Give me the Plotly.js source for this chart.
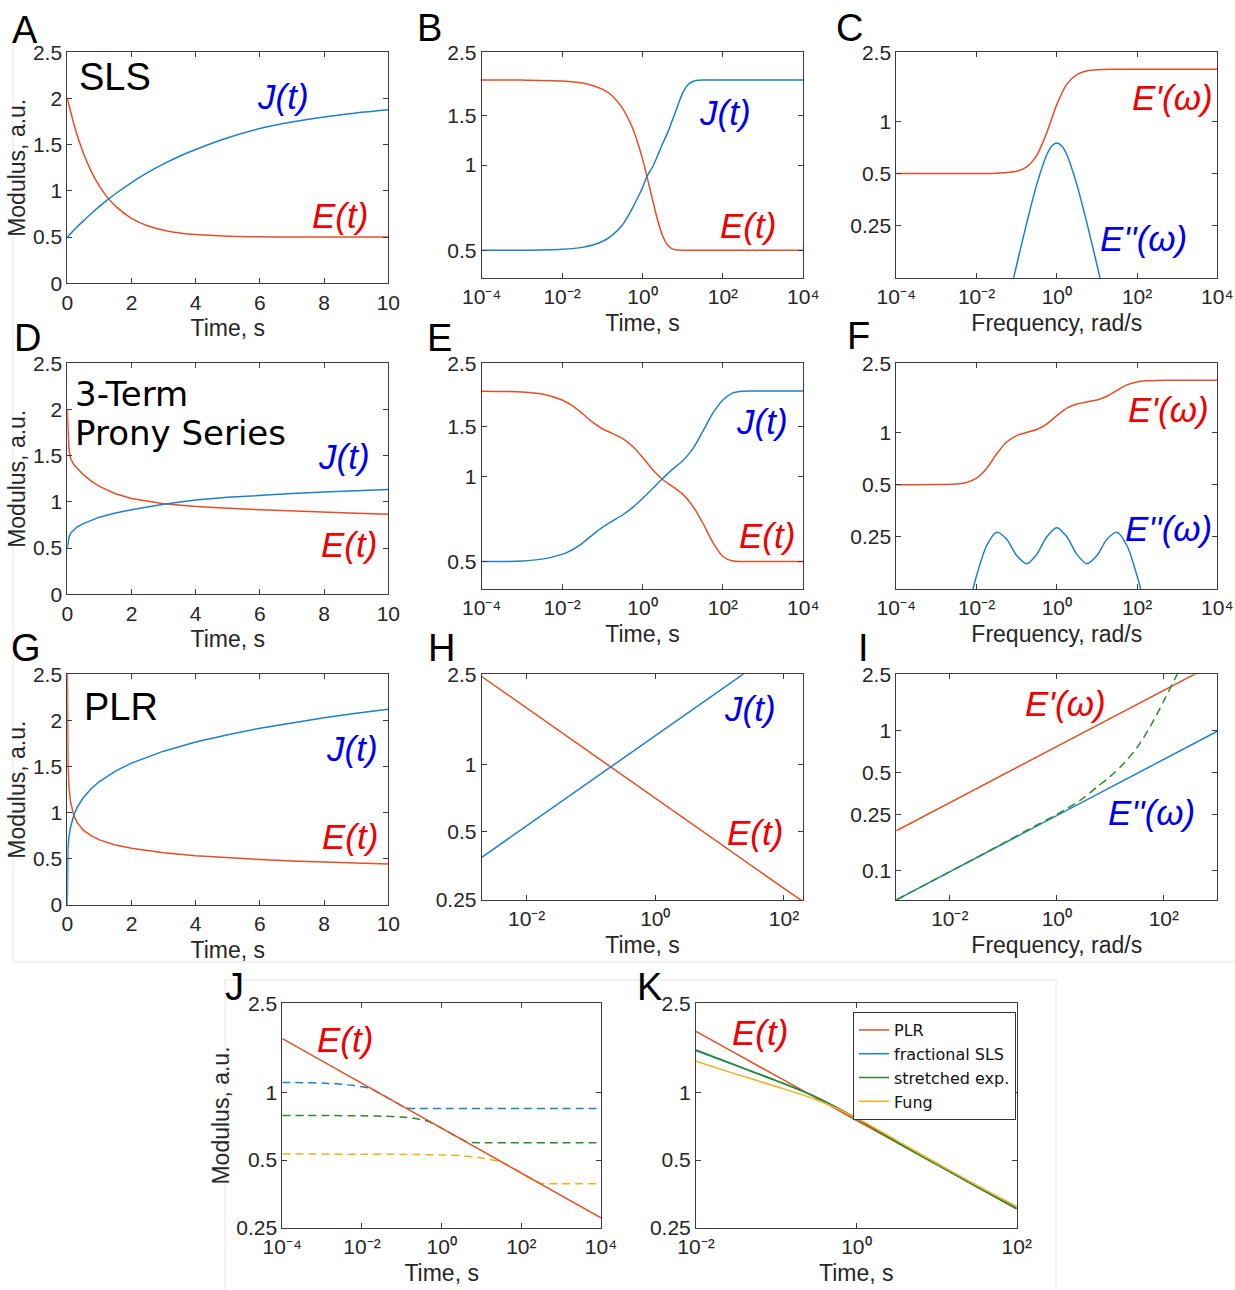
<!DOCTYPE html>
<html><head><meta charset="utf-8">
<script src="https://cdn.plot.ly/plotly-3.0.1.min.js"></script>
<style>html,body{margin:0;padding:0;background:#fff}#chart{width:1235px;height:1290px}</style>
</head><body><div id="chart"></div>
<script>
// ---------------- DATA ----------------
// A: SLS, linear time
const tA = [0, 0.25, 0.5, 0.75, 1, 1.25, 1.5, 2, 2.5, 3, 3.5, 4, 5, 6, 7, 8, 9, 10];
const eA = [2.0, 1.668, 1.41, 1.208, 1.052, 0.93, 0.835, 0.703, 0.623, 0.575, 0.545, 0.527, 0.51, 0.504, 0.501, 0.5, 0.5, 0.5];
const jA = [0.5, 0.591, 0.676, 0.756, 0.832, 0.903, 0.969, 1.09, 1.197, 1.292, 1.375, 1.448, 1.575, 1.675, 1.745, 1.80, 1.843, 1.877];
// B: SLS, log time
const tB = [1e-4, 1e-3, 1e-2, 0.0316, 0.1, 0.178, 0.316, 0.562, 0.75, 1, 1.33, 1.78, 2.37, 3.16, 4.2, 5.62, 7.5, 10, 13.3, 17.8, 23.7, 31.6, 100, 1e3, 1e4];
const eB = [2.0, 1.998, 1.985, 1.953, 1.857, 1.756, 1.59, 1.355, 1.208, 1.052, 0.896, 0.754, 0.64, 0.563, 0.522, 0.505, 0.501, 0.5, 0.5, 0.5, 0.5, 0.5, 0.5, 0.5, 0.5];
const jB = [0.5, 0.5, 0.504, 0.512, 0.537, 0.566, 0.614, 0.705, 0.764, 0.832, 0.92, 0.985, 1.08, 1.19, 1.30, 1.45, 1.62, 1.80, 1.92, 1.975, 1.994, 1.999, 2.0, 2.0, 2.0];
// C: SLS, frequency
const wC = [1e-4, 1e-3, 1e-2, 0.0316, 0.1, 0.178, 0.316, 0.562, 1, 1.78, 3.16, 5.62, 10, 31.6, 100, 1e3, 1e4];
const epC = [0.5, 0.5, 0.5002, 0.5015, 0.515, 0.546, 0.636, 0.86, 1.25, 1.64, 1.864, 1.954, 1.985, 1.998, 2.0, 2.0, 2.0];
const wC2 = [0.0562, 0.1, 0.178, 0.316, 0.562, 0.75, 1, 1.333, 1.78, 3.16, 5.62, 10, 17.8];
const eppC = [0.084, 0.1485, 0.259, 0.431, 0.641, 0.72, 0.75, 0.72, 0.641, 0.431, 0.259, 0.1485, 0.084];
// D: 3-term Prony, linear time
const tD = [0, 0.02, 0.05, 0.1, 0.2, 0.3, 0.5, 0.75, 1, 1.5, 2, 3, 4, 5, 6, 7, 8, 9, 10];
const eD = [2.0, 1.755, 1.578, 1.472, 1.407, 1.366, 1.295, 1.224, 1.168, 1.088, 1.037, 0.98, 0.95, 0.93, 0.915, 0.901, 0.888, 0.876, 0.865];
const jD = [0.5, 0.56, 0.612, 0.66, 0.70, 0.728, 0.765, 0.80, 0.835, 0.88, 0.915, 0.975, 1.02, 1.05, 1.072, 1.09, 1.107, 1.122, 1.135];
// E: 3-term Prony, log time
const tE = [1e-4, 1e-3, 0.00316, 0.01, 0.0178, 0.0316, 0.0562, 0.1, 0.178, 0.316, 0.562, 1, 1.78, 3.16, 5.62, 10, 17.8, 31.6, 56.2, 100, 178, 316, 1e3, 1e4];
const eE = [1.998, 1.984, 1.951, 1.86, 1.776, 1.668, 1.556, 1.472, 1.417, 1.36, 1.276, 1.168, 1.057, 0.974, 0.92, 0.865, 0.785, 0.684, 0.584, 0.521, 0.502, 0.5, 0.5, 0.5];
const jE = [0.5, 0.502, 0.51, 0.53, 0.55, 0.58, 0.62, 0.66, 0.695, 0.73, 0.775, 0.835, 0.905, 0.982, 1.06, 1.135, 1.25, 1.44, 1.67, 1.86, 1.97, 1.998, 2.0, 2.0];
// F: 3-term Prony, frequency
const wF = [1e-4, 1e-3, 0.00316, 0.00562, 0.01, 0.0178, 0.0316, 0.0562, 0.1, 0.178, 0.316, 0.562, 1, 1.78, 3.16, 5.62, 10, 17.8, 31.6, 56.2, 100, 178, 316, 1e3, 1e4];
const epF = [0.5, 0.5005, 0.505, 0.515, 0.545, 0.62, 0.7505, 0.8816, 0.9595, 1.0, 1.0405, 1.118, 1.25, 1.3816, 1.4595, 1.5, 1.54, 1.618, 1.75, 1.88, 1.9545, 1.985, 1.995, 1.9995, 2.0];
const wF2 = [0.00316, 0.00562, 0.01, 0.0178, 0.0316, 0.0562, 0.1, 0.178, 0.316, 0.562, 1, 1.78, 3.16, 5.62, 10, 17.8, 31.6, 56.2, 100, 178, 316];
const eppF = [0.051, 0.089, 0.149, 0.222, 0.266, 0.242, 0.195, 0.175, 0.198, 0.250, 0.282, 0.250, 0.198, 0.175, 0.195, 0.242, 0.266, 0.222, 0.149, 0.089, 0.051];
// G: PLR, linear time
const tGE = [0.0015, 0.002, 0.005, 0.01, 0.02, 0.05, 0.1, 0.2, 0.3, 0.5, 0.75, 1, 1.5, 2, 3, 4, 5, 6, 7, 8, 9, 10];
const eG = [2.58, 2.45, 2.037, 1.773, 1.544, 1.286, 1.119, 0.974, 0.898, 0.811, 0.748, 0.706, 0.651, 0.615, 0.567, 0.535, 0.512, 0.493, 0.478, 0.466, 0.455, 0.4455];
const tGJ = [0, 0.0001, 0.001, 0.005, 0.01, 0.02, 0.05, 0.1, 0.2, 0.3, 0.5, 0.75, 1, 1.5, 2, 3, 4, 5, 6, 7, 8, 9, 10];
const jG = [0, 0.212, 0.336, 0.464, 0.532, 0.612, 0.735, 0.843, 0.970, 1.052, 1.165, 1.263, 1.338, 1.451, 1.537, 1.667, 1.766, 1.846, 1.915, 1.975, 2.028, 2.077, 2.121];
// H: PLR, log time
const tH = [0.002, 0.01, 0.1, 1, 10, 100, 200];
const eH = [2.45, 1.773, 1.119, 0.706, 0.4455, 0.281, 0.245];
const tH2 = [0.002, 0.01, 0.1, 1, 10, 30];
const jH = [0.386, 0.532, 0.843, 1.338, 2.121, 2.64];
// I: PLR, frequency
const wI = [1e-3, 1e-2, 0.1, 1, 10, 100, 1000];
const epI = [0.193, 0.306, 0.485, 0.767, 1.216, 1.93, 3.05];
const eppI = [0.0621, 0.0985, 0.156, 0.247, 0.392, 0.621, 0.985];
const wIg = [0.001, 0.01, 0.1, 0.316, 1, 3.16, 5.62, 10, 17.8, 31.6, 56.2, 100, 178, 224];
const gI = [0.0621, 0.0985, 0.157, 0.20, 0.252, 0.33, 0.395, 0.47, 0.58, 0.753, 1.07, 1.62, 2.51, 3.0];
// J: PLR E(t) and three windowed fits (dashed)
const tJ = [1e-4, 1e-3, 1e-2, 0.1, 1, 10, 100, 1e3, 1e4];
const eJ = [1.744, 1.386, 1.101, 0.874, 0.694, 0.551, 0.438, 0.348, 0.276];
const tJb = [1e-4, 3.16e-4, 1e-3, 3.16e-3, 6.31e-3, 0.01, 0.0158, 0.0316, 0.0631, 0.1, 0.126, 0.158, 0.251, 1, 10, 100, 1e3, 1e4];
const bJ = [1.11, 1.108, 1.103, 1.09, 1.075, 1.063, 1.047, 0.98, 0.915, 0.873, 0.856, 0.85, 0.849, 0.849, 0.849, 0.849, 0.849, 0.849];
const tJg = [1e-4, 1e-3, 1e-2, 0.0316, 0.1, 0.2, 0.316, 0.5, 0.794, 1, 1.585, 2.51, 3.55, 5.01, 10, 100, 1e3, 1e4];
const gJ = [0.79, 0.79, 0.788, 0.785, 0.778, 0.768, 0.757, 0.74, 0.71, 0.694, 0.663, 0.633, 0.612, 0.600, 0.598, 0.598, 0.598, 0.598];
const tJy = [1e-4, 1e-2, 0.1, 1, 3.16, 6.31, 10, 15.8, 25.1, 39.8, 63.1, 100, 158, 251, 316, 398, 1e3, 1e4];
const yJ = [0.532, 0.531, 0.530, 0.527, 0.523, 0.517, 0.511, 0.503, 0.495, 0.48, 0.459, 0.438, 0.418, 0.399, 0.393, 0.392, 0.392, 0.392];
// K: comparison of models
const tK = [0.01, 0.0316, 0.1, 0.316, 1, 3.16, 10, 31.6, 100];
const kPLR = [1.876, 1.493, 1.189, 0.946, 0.753, 0.600, 0.478, 0.380, 0.303];
const kFrac = [1.54, 1.32, 1.13, 0.955, 0.77, 0.605, 0.48, 0.38, 0.305];
const kStr = [1.55, 1.325, 1.132, 0.955, 0.768, 0.602, 0.478, 0.382, 0.303];
const kFung = [1.38, 1.21, 1.065, 0.93, 0.772, 0.612, 0.485, 0.386, 0.31];
const legendNames = ['PLR', 'fractional SLS', 'stretched exp.', 'Fung'];

// ---------------- STYLE ----------------
const W = 1235, H = 1290;
const RED = '#E2502A', BLUE = '#1F80C6', GREEN = '#2A8A2A', YEL = '#EDB120';
const LBLRED = '#F00000', LBLBLUE = '#0000EE';
const FONT = 'Liberation Sans, Arial, sans-serif';
const WIDEFONT = 'DejaVu Sans, sans-serif';
const LBLFONT = 'Liberation Sans Narrow, Liberation Sans, Arial, sans-serif';
const px = v => v / W, py = v => 1 - v / H;

const boxes = [
  [67.3, 388.3, 52.3, 283.3], [481.7, 803.3, 52.3, 277.7], [896.3, 1217.3, 52.3, 277.7],
  [67.3, 388.3, 363.3, 594.3], [481.7, 803.3, 363.3, 589], [896.3, 1217.3, 363.3, 589],
  [67.3, 388.3, 674.3, 905], [481.7, 803.3, 674.3, 900], [896.3, 1217.3, 674.3, 900],
  [282.3, 601, 1003.3, 1227.7], [696, 1016.7, 1003.3, 1227.7]
];
const L = Math.log10;
const SUP = {'-4': '10⁻⁴', '-2': '10⁻²', '0': '10⁰', '2': '10²', '4': '10⁴'};
const sup = e => SUP[String(e)];
const xLog8 = {type: 'log', range: [-4, 4], tickvals: [1e-4, 1e-2, 1, 1e2, 1e4], ticktext: [sup(-4), sup(-2), sup(0), sup(2), sup(4)]};
const xLin = {range: [0, 10], tickvals: [0, 2, 4, 6, 8, 10]};
const yLin = {range: [0, 2.5], tickvals: [0, 0.5, 1, 1.5, 2, 2.5], ticktext: ['0', '0.5', '1', '1.5', '2', '2.5']};
const yB = {type: 'log', range: [L(0.4), L(2.5) + 0.001], tickvals: [0.5, 1, 1.5, 2.5], ticktext: ['0.5', '1', '1.5', '2.5']};
const yC = {type: 'log', range: [L(0.125), L(2.5) + 0.001], tickvals: [0.25, 0.5, 1, 2.5], ticktext: ['0.25', '0.5', '1', '2.5']};
const yH = {type: 'log', range: [L(0.25) - 0.001, L(2.5) + 0.001], tickvals: [0.25, 0.5, 1, 2.5], ticktext: ['0.25', '0.5', '1', '2.5']};
const yI = {type: 'log', range: [L(0.062), L(2.5) + 0.001], tickvals: [0.1, 0.25, 0.5, 1, 2.5], ticktext: ['0.1', '0.25', '0.5', '1', '2.5']};
const xH = {type: 'log', range: [L(0.002), L(200)], tickvals: [1e-2, 1, 1e2], ticktext: [sup(-2), sup(0), sup(2)]};
const xI = {type: 'log', range: [-3, 3], tickvals: [1e-2, 1, 1e2], ticktext: [sup(-2), sup(0), sup(2)]};
const xK = {type: 'log', range: [-2, 2], tickvals: [1e-2, 1, 1e2], ticktext: [sup(-2), sup(0), sup(2)]};

const xs = [xLin, xLog8, xLog8, xLin, xLog8, xLog8, xLin, xH, xI, xLog8, xK];
const ys = [yLin, yB, yC, yLin, yB, yC, yLin, yH, yI, yH, yH];
const xt = ['Time, s', 'Time, s', 'Frequency, rad/s', 'Time, s', 'Time, s', 'Frequency, rad/s', 'Time, s', 'Time, s', 'Frequency, rad/s', 'Time, s', 'Time, s'];
const yt = ['Modulus, a.u.', null, null, 'Modulus, a.u.', null, null, 'Modulus, a.u.', null, null, 'Modulus, a.u.', null];

const base = {
  showline: true, mirror: 'ticks', linecolor: '#3c3c3c', linewidth: 1,
  ticks: 'inside', ticklen: 5, tickcolor: '#3c3c3c', tickwidth: 1,
  showgrid: false, zeroline: false, fixedrange: true,
  tickfont: {family: FONT, size: 21, color: '#262626'}
};
const layout = {
  width: W, height: H, margin: {l: 0, r: 0, t: 0, b: 0},
  paper_bgcolor: '#fff', plot_bgcolor: '#fff',
  font: {family: FONT, color: '#262626'},
  showlegend: true,
  legend: {x: px(853), y: py(1012), xanchor: 'left', yanchor: 'top', bgcolor: '#fff',
           bordercolor: '#333', borderwidth: 1, font: {family: WIDEFONT, size: 16, color: '#111'},
           tracegroupgap: 0, itemwidth: 30},
  annotations: [], shapes: []
};
boxes.forEach((b, i) => {
  const n = i === 0 ? '' : String(i + 1);
  layout['xaxis' + n] = Object.assign({}, base, xs[i], {
    domain: [px(b[0]), px(b[1])], anchor: 'y' + n,
    title: {text: xt[i], font: {family: FONT, size: 23, color: '#262626'}, standoff: 7}
  });
  const ya = Object.assign({}, base, ys[i], {domain: [py(b[3]), py(b[2])], anchor: 'x' + n});
  if (yt[i]) ya.title = {text: yt[i], font: {family: FONT, size: 23, color: '#262626'}, standoff: 0};
  layout['yaxis' + n] = ya;
});

function line(x, y, ax, color, opts) {
  opts = opts || {};
  return {x: x, y: y, type: 'scatter', mode: 'lines', xaxis: 'x' + ax, yaxis: 'y' + ax,
          line: {color: color, width: 1.5, shape: opts.shape || 'spline', smoothing: opts.sm || 0.8, dash: opts.dash || 'solid'},
          showlegend: !!opts.name, name: opts.name || '', hoverinfo: 'skip'};
}
const DASH = '8px,5px';
const traces = [
  line(tA, eA, '', RED), line(tA, jA, '', BLUE),
  line(tB, eB, '2', RED), line(tB, jB, '2', BLUE),
  line(wC, epC, '3', RED), line(wC2, eppC, '3', BLUE),
  line(tD, eD, '4', RED, {shape: 'linear'}), line(tD, jD, '4', BLUE, {shape: 'linear'}),
  line(tE, eE, '5', RED), line(tE, jE, '5', BLUE),
  line(wF, epF, '6', RED), line(wF2, eppF, '6', BLUE),
  line(tGE, eG, '7', RED, {shape: 'linear'}), line(tGJ, jG, '7', BLUE, {shape: 'linear'}),
  line(tH, eH, '8', RED, {shape: 'linear'}), line(tH2, jH, '8', BLUE, {shape: 'linear'}),
  line(wI, epI, '9', RED, {shape: 'linear'}), line(wI, eppI, '9', BLUE, {shape: 'linear'}),
  line(wIg, gI, '9', GREEN, {dash: DASH}),
  line(tJb, bJ, '10', BLUE, {dash: DASH, sm: 0.6}), line(tJg, gJ, '10', GREEN, {dash: DASH, sm: 0.6}),
  line(tJy, yJ, '10', YEL, {dash: DASH, sm: 0.6}), line(tJ, eJ, '10', RED, {shape: 'linear'}),
  line(tK, kPLR, '11', RED, {name: legendNames[0]}), line(tK, kFrac, '11', BLUE, {name: legendNames[1]}),
  line(tK, kStr, '11', GREEN, {name: legendNames[2]}), line(tK, kFung, '11', YEL, {name: legendNames[3]})
];

function ann(text, x, y, size, color, family, extra) {
  layout.annotations.push(Object.assign({text: text, x: px(x), y: py(y), xref: 'paper', yref: 'paper',
    showarrow: false, xanchor: 'center', yanchor: 'middle',
    font: {family: family, size: size, color: color}}, extra || {}));
}
// panel letters
[['A', 25, 30], ['B', 429, 28], ['C', 849, 28], ['D', 27, 338], ['E', 439, 338], ['F', 858, 336],
 ['G', 26, 648], ['H', 441, 648], ['I', 863, 648], ['J', 234, 987], ['K', 649, 987]]
  .forEach(l => ann(l[0], l[1], l[2], 38, '#000', FONT));
// model names
ann('SLS', 115, 77, 38, '#000', FONT);
ann('3-Term', 73, 394, 34, '#000', WIDEFONT, {xanchor: 'left'});
ann('Prony Series', 73, 433, 34, '#000', WIDEFONT, {xanchor: 'left'});
ann('PLR', 121, 707, 38, '#000', FONT);
// curve labels
const it = s => '<i>' + s + '</i>';
const curveLabels = [
  ['J(t)', 283, 97, LBLBLUE], ['E(t)', 340, 216, LBLRED],
  ['J(t)', 725, 112, LBLBLUE], ['E(t)', 748, 226, LBLRED],
  ["E'(ω)", 1172, 98, LBLRED], ["E''(ω)", 1143, 238, LBLBLUE],
  ['J(t)', 344, 456, LBLBLUE], ['E(t)', 349, 544, LBLRED],
  ['J(t)', 762, 421, LBLBLUE], ['E(t)', 767, 536, LBLRED],
  ["E'(ω)", 1168, 409, LBLRED], ["E''(ω)", 1168, 528, LBLBLUE],
  ['J(t)', 352, 748, LBLBLUE], ['E(t)', 350, 836, LBLRED],
  ['J(t)', 750, 708, LBLBLUE], ['E(t)', 755, 832, LBLRED],
  ["E'(ω)", 1065, 703, LBLRED], ["E''(ω)", 1151, 812, LBLBLUE],
  ['E(t)', 345, 1039, LBLRED], ['E(t)', 760, 1032, LBLRED]
];
curveLabels.forEach(c => ann(it(c[0]), c[1], c[2], 35, c[3], LBLFONT));

// faint sub-figure borders
const border = (x0, y0, x1, y1) => layout.shapes.push({type: 'line', xref: 'paper', yref: 'paper',
  x0: px(x0), y0: py(y0), x1: px(x1), y1: py(y1), line: {color: '#e4e4e4', width: 1}});
border(13, 37, 13, 962); border(13, 962, 1235, 962);
border(225, 980, 225, 1290); border(225, 980, 1056, 980); border(1056, 980, 1056, 1290);

Plotly.newPlot('chart', traces, layout, {staticPlot: true, displayModeBar: false});
</script></body></html>
